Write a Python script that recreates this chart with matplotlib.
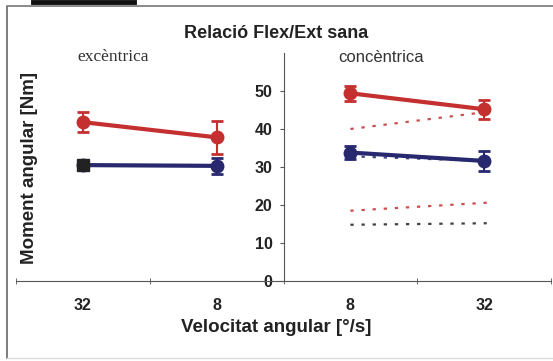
import matplotlib.pyplot as plt
from matplotlib.lines import Line2D

# velocitats (categories) i moments mitjans
cats = ['32', '8', '8', '32']
exc_flex = [41.8, 37.8]
exc_flex_err = [2.6, 4.3]
exc_ext = [30.5, 30.3]
exc_ext_err = [0.0, 2.2]
con_flex = [49.4, 45.2]
con_flex_err = [2.0, 2.5]
con_ext = [33.8, 31.6]
con_ext_err = [1.8, 2.6]
# referencies (punts)
ref_flex_hi = [40.0, 44.5]
ref_ext_hi = [32.8, 31.6]
ref_flex_lo = [18.5, 20.6]
ref_ext_lo = [14.8, 15.2]

red = '#c43030'
blue = '#27286e'

fig = plt.figure(figsize=(5.53, 3.61), dpi=100)
ax = fig.add_axes([16/553, 80/361, 535/553, 228/361])

x_exc = [0, 1]
x_con = [2, 3]

# linies de referencia
for vals, col in [(ref_flex_hi, red), (ref_ext_hi, blue), (ref_flex_lo, red), (ref_ext_lo, '#222222')]:
    ax.plot([2, 3.02], [vals[0], vals[1]], color=col, lw=1.6, ls=(0, (1.5, 3.5)), alpha=0.85)

def serie(x, y, e, col, lw=3):
    ax.plot(x, y, color=col, lw=lw, solid_capstyle='round', zorder=3)
    ax.errorbar(x, y, yerr=e, fmt='o', color=col, ms=9, elinewidth=1.5,
                capsize=4.5, capthick=2, zorder=4)

serie(x_exc, exc_flex, exc_flex_err, red)
serie(x_exc, exc_ext, exc_ext_err, blue)
ax.plot([0], [exc_ext[0]], 's', color='#222222', ms=8, zorder=5)
serie(x_con, con_flex, con_flex_err, red)
serie(x_con, con_ext, con_ext_err, blue)

ax.set_xlim(-0.5, 3.5)
ax.set_ylim(0, 60)
ax.spines['top'].set_visible(False)
ax.spines['right'].set_visible(False)
ax.spines['left'].set_position(('data', 1.5))
ax.spines['left'].set_color('#555555')
ax.spines['bottom'].set_color('#555555')
ax.set_yticks([0, 10, 20, 30, 40, 50])
ax.set_xticks(range(4))
ax.set_xticklabels(cats)
ax.set_xticks([-0.5, 0.5, 1.5, 2.5, 3.5], minor=True)
ax.tick_params(axis='x', which='major', length=0, pad=12)
ax.tick_params(axis='x', which='minor', length=4, direction='inout', color='#555555')
ax.tick_params(axis='y', length=3, color='#555555', pad=5)
for lab in ax.get_xticklabels() + ax.get_yticklabels():
    lab.set_fontweight('bold')
    lab.set_fontsize(11.5)
    lab.set_family('Liberation Sans')
    lab.set_color('#222222')
ax.patch.set_alpha(0)

fig.text(0.5, 1 - 33/361, 'Relació Flex/Ext sana', ha='center', va='center',
         fontsize=13, fontweight='bold', family='Liberation Sans', color='#222222')
fig.text(113/553, 1 - 57/361, 'excèntrica', ha='center', va='center',
         fontsize=12.5, family='Liberation Serif', color='#333333')
fig.text(381/553, 1 - 57/361, 'concèntrica', ha='center', va='center',
         fontsize=12, family='Liberation Sans', color='#333333')
fig.text(30/553, 1 - 168/361, 'Moment angular [Nm]', rotation=90, ha='center', va='center',
         fontsize=13.5, fontweight='bold', family='Liberation Sans', color='#222222')
fig.text(0.5, 1 - 328/361, 'Velocitat angular [°/s]', ha='center', va='center',
         fontsize=13.5, fontweight='bold', family='Liberation Sans', color='#222222')

# marc exterior
fig.add_artist(Line2D([7/553, 7/553], [3/361, 1 - 7/361], color='#666666', lw=1.2))
fig.add_artist(Line2D([7/553, 1], [1 - 6/361, 1 - 6/361], color='#777777', lw=1.2))
fig.add_artist(Line2D([7/553, 1], [3/361, 3/361], color='#dddddd', lw=1.0))
fig.add_artist(Line2D([33/553, 134/553], [1 - 2/361, 1 - 2/361], color='#111111', lw=3.5))

fig.savefig('out.png', dpi=100)
